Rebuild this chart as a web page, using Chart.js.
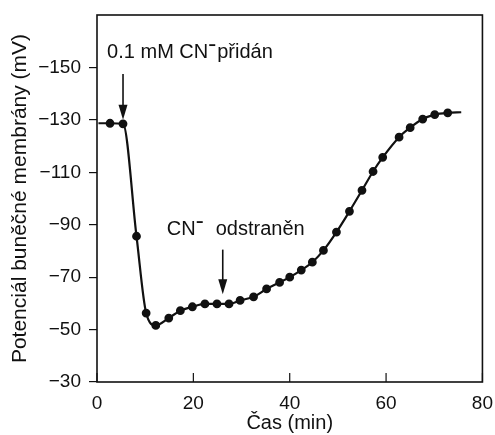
<!DOCTYPE html>
<html>
<head>
<meta charset="utf-8">
<script src="https://cdn.jsdelivr.net/npm/chart.js@4"></script>
<style>
  html, body { margin: 0; padding: 0; background: #fff; }
  canvas { display: block; }
</style>
</head>
<body>
<canvas id="myChart" width="495" height="435"></canvas>
<script>
// time (min) and membrane potential (mV)
const timeMin = [0.3, 2.7, 5.4, 8.2, 10.2, 12.2, 14.9, 17.3, 19.8, 22.4, 24.9, 27.4, 29.7, 32.5, 35.2, 37.9, 40.0, 42.4, 44.7, 47.0, 49.7, 52.4, 55.0, 57.3, 59.3, 62.7, 65.0, 67.6, 70.1, 72.8, 75.6]
const potential = [-128.7, -128.7, -128.5, -85.6, -56.3, -51.6, -54.4, -57.2, -58.7, -59.8, -59.8, -59.8, -61.1, -62.5, -65.5, -68.0, -70.0, -72.7, -75.7, -80.2, -87.2, -95.1, -103.1, -110.3, -115.7, -123.4, -127.0, -130.3, -132.0, -132.7, -132.9]
// first and last entries are only line ends, no dot
const hasDot = timeMin.map((t, i) => i !== 0 && i !== timeMin.length - 1)

const xTicks = [0, 20, 40, 60, 80]
const yTicks = [-150, -130, -110, -90, -70, -50, -30]

const arrows = [
    { x: 5.4, from: -147.5, to: -130 },
    { x: 26.1, from: -80.5, to: -63.5 }
]
const notes = [
    { x: 2.1, y: -155.8, before: '0.1 mM CN', after: 'přidán', gap: 2 },
    { x: 14.5, y: -88.3, before: 'CN', after: 'odstraněn', gap: 13 }
]

const ink = '#111'
const ctx = document.getElementById('myChart').getContext('2d')

const points = timeMin.map((t, i) => ({ x: t, y: potential[i] }))

const extras = {
    id: 'extras',
    afterDraw(chart) {
        const c = chart.ctx
        const a = chart.chartArea
        const xs = chart.scales.x
        const ys = chart.scales.y
        c.save()
        c.strokeStyle = ink
        c.fillStyle = ink
        c.lineWidth = 1.6
        c.strokeRect(a.left, a.top, a.right - a.left, a.bottom - a.top)

        // inward ticks on the time axis
        c.lineWidth = 1.2
        xTicks.forEach(v => {
            const px = xs.getPixelForValue(v)
            c.beginPath()
            c.moveTo(px, a.bottom)
            c.lineTo(px, a.bottom - 9)
            c.stroke()
        })

        // arrows
        arrows.forEach(ar => {
            const px = xs.getPixelForValue(ar.x)
            const y1 = ys.getPixelForValue(ar.from)
            const y2 = ys.getPixelForValue(ar.to)
            c.lineWidth = 1.6
            c.beginPath()
            c.moveTo(px, y1)
            c.lineTo(px, y2 - 12)
            c.stroke()
            c.beginPath()
            c.moveTo(px - 4.5, y2 - 15)
            c.lineTo(px + 4.5, y2 - 15)
            c.lineTo(px, y2)
            c.closePath()
            c.fill()
        })

        // labels with superscript minus
        c.font = '20px "Liberation Sans", Arial, sans-serif'
        c.textBaseline = 'middle'
        c.textAlign = 'left'
        notes.forEach(n => {
            let px = xs.getPixelForValue(n.x)
            const py = ys.getPixelForValue(n.y)
            c.fillText(n.before, px, py)
            px += c.measureText(n.before).width + 1
            c.fillRect(px, py - 8, 6, 1.8)
            px += 6 + n.gap
            c.fillText(n.after, px, py)
        })
        c.restore()
    }
}

new Chart(ctx, {
    type: 'scatter',
    data: {
        datasets: [{
            data: points,
            showLine: true,
            borderColor: ink,
            backgroundColor: ink,
            borderWidth: 2.2,
            cubicInterpolationMode: 'monotone',
            pointRadius: hasDot.map(d => d ? 3.3 : 0),
            pointHoverRadius: 3.3
        }]
    },
    options: {
        responsive: false,
        animation: false,
        layout: { padding: { top: 15, right: 12, left: 0, bottom: 0 } },
        plugins: {
            legend: { display: false },
            tooltip: { enabled: false }
        },
        scales: {
            x: {
                type: 'linear',
                min: 0,
                max: 80,
                afterBuildTicks: axis => { axis.ticks = xTicks.map(v => ({ value: v })) },
                afterFit: axis => { axis.height = 53 },
                grid: { display: false },
                border: { display: false },
                ticks: {
                    color: ink,
                    padding: 2,
                    maxRotation: 0,
                    font: { family: '"Liberation Sans", Arial, sans-serif', size: 19 }
                },
                title: {
                    display: true,
                    text: 'Čas (min)',
                    color: ink,
                    padding: { top: 0, bottom: 0 },
                    font: { family: '"Liberation Sans", Arial, sans-serif', size: 20 }
                }
            },
            y: {
                type: 'linear',
                min: -170,
                max: -30,
                reverse: true,
                afterBuildTicks: axis => { axis.ticks = yTicks.map(v => ({ value: v })) },
                afterFit: axis => {
                    axis.width = 97
                    axis.paddingTop = 0
                    axis.paddingBottom = 0
                },
                grid: {
                    drawOnChartArea: false,
                    drawTicks: true,
                    tickLength: 8,
                    color: ink,
                    lineWidth: 1.2
                },
                border: { display: false },
                ticks: {
                    color: ink,
                    padding: 8,
                    font: { family: '"Liberation Sans", Arial, sans-serif', size: 19 },
                    callback: v => v < 0 ? '\u2212' + Math.abs(v) : String(v)
                },
                title: {
                    display: true,
                    text: 'Potenciál buněčné membrány (mV)',
                    color: ink,
                    padding: { top: 8, bottom: 0 },
                    font: { family: '"Liberation Sans", Arial, sans-serif', size: 21 }
                }
            }
        }
    },
    plugins: [extras]
})
</script>
</body>
</html>
